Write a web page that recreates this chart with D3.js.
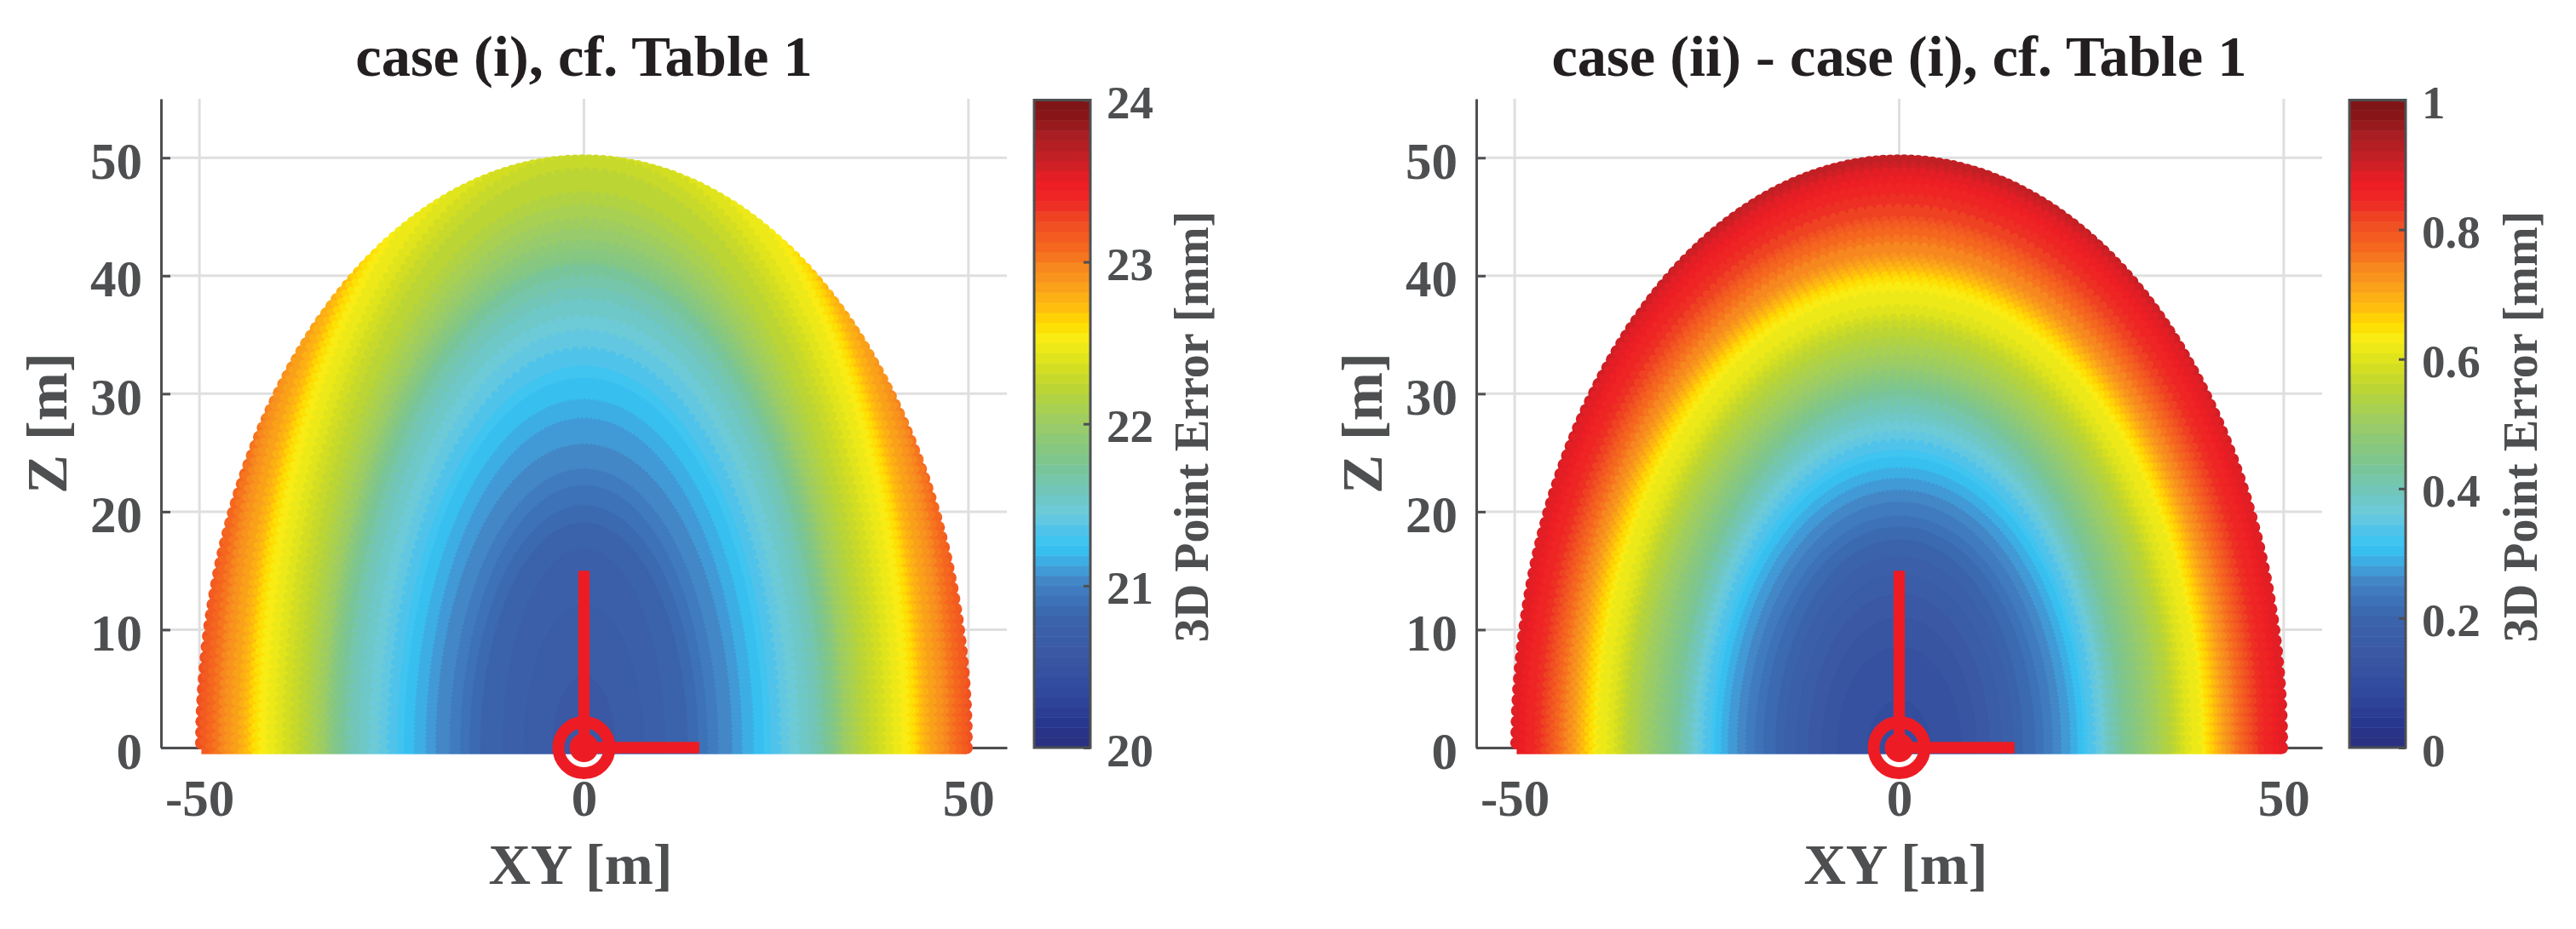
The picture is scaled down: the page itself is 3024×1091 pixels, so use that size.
<!DOCTYPE html>
<html>
<head>
<meta charset="utf-8">
<title>3D Point Error</title>
<script src="https://cdnjs.cloudflare.com/ajax/libs/d3/7.9.0/d3.min.js"></script>
<style>
 body, html { margin: 0; padding: 0; background: white; overflow: hidden; }
 text { font-family: "Liberation Serif", serif; font-weight: bold; fill: #4d4f51; }
 .title { fill: #231f20; }
</style>
</head>
<body>
<svg id="chart" width="3024" height="1091"></svg>
<script>
const xyTicks = [-50, 0, 50];
const zTicks = [0, 10, 20, 30, 40, 50];
const panelTitles = ["case (i), cf. Table 1", "case (ii) - case (i), cf. Table 1"];
const colorTicks = [[20, 21, 22, 23, 24], [0, 0.2, 0.4, 0.6, 0.8, 1]];
const colorDomains = [[20, 24], [0, 1]];

// colormap (fraction of the bar, colour)
const cmapStops = [0, 0.04, 0.08, 0.12, 0.16, 0.2, 0.235, 0.26, 0.285, 0.31, 0.335, 0.36, 0.4, 0.44, 0.48, 0.52, 0.56, 0.6, 0.63, 0.655, 0.68, 0.71, 0.74, 0.77, 0.81, 0.84, 0.875, 0.89, 0.92, 0.95, 0.97, 1];
const cmapColors = ["#2b2e7f", "#27378d", "#2f479d", "#36529f", "#3b5ba5", "#3a64ad", "#3e76bb", "#4489c8", "#3fa9e0", "#35c5f4", "#4fc3ea", "#6ccbde", "#71c6b7", "#7cc591", "#90c975", "#a6cf55", "#bed630", "#dfe31c", "#f7ee16", "#ffdd00", "#ffbe0e", "#faa21a", "#f7891f", "#f5681f", "#f04e23", "#ee2a24", "#ed1c24", "#d91f26", "#bb2025", "#a61e22", "#8c1618", "#7a1416"];

// iso-error curves: error [mm], half width on Z=0 [m], height on XY=0 [m]
const caseOneError = [20.625, 20.6875, 20.75, 20.8125, 20.875, 20.9375, 21, 21.0625, 21.125, 21.1875, 21.25, 21.3125, 21.375, 21.4375, 21.5, 21.5625, 21.625, 21.6875, 21.75, 21.8125, 21.875, 21.9375, 22, 22.0625, 22.125, 22.1875, 22.25, 22.3125, 22.375, 22.4375, 22.5, 22.5625, 22.625, 22.6875, 22.75, 22.8125, 22.875, 22.9375, 23, 23.0625, 23.125, 23.1875, 23.25];
const caseOneWidth = [4, 7.7, 10.5, 13.4, 14.8, 16, 17.4, 19.2, 20.5, 22, 23.3, 24.2, 25.2, 26.3, 27.6, 28.9, 30, 30.7, 31.4, 32.1, 32.6, 33.1, 33.5, 34.3, 35.1, 35.9, 36.8, 37.8, 38.8, 39.8, 40.9, 42, 42.7, 43.2, 43.8, 44.5, 45.5, 46.4, 47.1, 47.9, 48.7, 49.5, 50.3];
const caseOneHeight = [6, 12, 16.8, 19, 20.5, 22.2, 23.6, 25.7, 27.9, 29.5, 31.3, 32.3, 33.7, 35.2, 36.4, 37.8, 38.8, 39.8, 40.7, 41.1, 42, 42.8, 43.8, 44.7, 45.8, 46.9, 48.9, 50.1, 51.1, 52.3, 54, 54.5, 55, 55.5, 56, 57, 58, 58.5, 59, 59.7, 61.5, 64, 67];

const caseTwoError = [0.109, 0.125, 0.141, 0.156, 0.172, 0.188, 0.203, 0.219, 0.234, 0.25, 0.266, 0.281, 0.297, 0.313, 0.328, 0.344, 0.359, 0.375, 0.391, 0.406, 0.422, 0.438, 0.453, 0.469, 0.484, 0.5, 0.516, 0.531, 0.547, 0.563, 0.578, 0.594, 0.609, 0.625, 0.641, 0.656, 0.672, 0.688, 0.703, 0.719, 0.734, 0.75, 0.766, 0.781, 0.797, 0.813, 0.828, 0.844, 0.859, 0.875, 0.891, 0.906, 0.922];
const caseTwoWidth = [4, 8, 10, 11.7, 13.3, 14.8, 16, 17.6, 18.7, 19.9, 21, 22.2, 23.1, 23.9, 24.4, 25.1, 25.8, 26.4, 26.9, 27.6, 28.2, 28.9, 29.8, 30.7, 31.5, 32.4, 33.3, 33.9, 34.9, 35.5, 36.1, 36.7, 37.6, 38.9, 39.4, 39.9, 40.5, 41, 41.5, 42, 42.6, 43.2, 43.8, 44.4, 44.9, 45.5, 46.2, 47, 48.2, 49, 50.2, 51, 52];
const caseTwoHeight = [4, 8.5, 11, 13, 14.6, 16.2, 17.6, 18.7, 19.6, 20.8, 21.8, 22.8, 23.7, 24.6, 25.2, 25.9, 26.6, 27.4, 28.1, 28.8, 29.5, 30.1, 30.7, 31.2, 31.8, 32.4, 33.1, 33.9, 34.6, 35.4, 36, 36.5, 37.3, 38.5, 39.2, 39.7, 40.1, 40.5, 40.9, 41.3, 41.7, 42.6, 43.2, 43.9, 44.4, 44.8, 45.8, 46.7, 47.6, 48.2, 48.9, 49.4, 50.2];

const caseError = [caseOneError, caseTwoError];
const caseWidth = [caseOneWidth, caseTwoWidth];
const caseHeight = [caseOneHeight, caseTwoHeight];

const domeRadius = 49.75;
const rimAngles = d3.range(0, 180.01, 1.05);
const sensorReach = 15;

const svg = d3.select("#chart");
const axisColor = "#4d4f51";
const gridColor = "#dfdfe0";
const markerColor = "#ed1c24";

const cmap = d3.scaleLinear().domain(cmapStops).range(cmapColors);
const bands = d3.range(64).map(i => cmap((i + 0.5) / 64));

function drawPanel(index, left) {
 const g = svg.append("g");
 const x = d3.scaleLinear().domain([-55, 55]).range([left, left + 993]);
 const y = d3.scaleLinear().domain([0, 55]).range([878, 116]);
 const color = d3.scaleQuantize().domain(colorDomains[index]).range(bands);

 // grid
 g.append("g").selectAll("line").data(xyTicks).enter().append("line")
  .attr("x1", d => x(d)).attr("x2", d => x(d))
  .attr("y1", y(55)).attr("y2", y(0))
  .attr("stroke", gridColor).attr("stroke-width", 3);
 g.append("g").selectAll("line").data(zTicks).enter().append("line")
  .attr("x1", x(-55)).attr("x2", x(55))
  .attr("y1", d => y(d)).attr("y2", d => y(d))
  .attr("stroke", gridColor).attr("stroke-width", 3);

 // axes
 const yAxis = g.append("g").attr("transform", `translate(${x(-55)},0)`)
  .call(d3.axisLeft(y).tickValues(zTicks).tickSize(-11).tickSizeOuter(0).tickPadding(22).tickFormat(String));
 const xAxis = g.append("g").attr("transform", `translate(0,${y(0)})`)
  .call(d3.axisBottom(x).tickValues(xyTicks).tickSize(-11).tickSizeOuter(0).tickFormat(String));
 [xAxis, yAxis].forEach(a => {
  a.selectAll("path, line").attr("stroke", axisColor).attr("stroke-width", 3);
  a.selectAll("text").style("font-size", "61px").style("fill", axisColor).attr("font-family", null);
 });
 yAxis.selectAll("text").attr("dy", 24);
 xAxis.selectAll("text").attr("y", 80).attr("dy", 0);

 // dome of points: nested iso-error curves, clipped to the rim of the dots
 const clipId = "dome" + index;
 const clip = g.append("clipPath").attr("id", clipId);
 const rimLine = d3.line().x(d => x(domeRadius * Math.cos(d * Math.PI / 180))).y(d => y(domeRadius * Math.sin(d * Math.PI / 180)));
 clip.append("path").attr("d", rimLine(rimAngles) + "Z");
 clip.append("rect").attr("x", x(-domeRadius)).attr("width", x(domeRadius) - x(-domeRadius)).attr("y", y(2)).attr("height", y(0) - y(2) + 7.7);
 clip.selectAll("circle").data(rimAngles).enter().append("circle")
  .attr("cx", d => x(domeRadius * Math.cos(d * Math.PI / 180)))
  .attr("cy", d => y(domeRadius * Math.sin(d * Math.PI / 180)))
  .attr("r", 7.5);

 const dome = g.append("g").attr("clip-path", `url(#${clipId})`);
 const rows = caseError[index].map((e, i) => ({ e, a: caseWidth[index][i], b: caseHeight[index][i] }));
 const span = colorDomains[index][1] - colorDomains[index][0];
 dome.append("rect").attr("x", x(-55)).attr("width", x(55) - x(-55)).attr("y", y(55)).attr("height", y(0) - y(55) + 10)
  .attr("fill", color(rows[rows.length - 1].e + span / 128));
 const steps = d3.range(0, 360, 2);
 dome.selectAll("path").data(rows.slice().reverse()).enter().append("path")
  .attr("d", r => d3.line()
   .x(d => x(r.a * Math.cos(d * Math.PI / 180)))
   .y(d => y(r.b * Math.sin(d * Math.PI / 180)))(steps) + "Z")
  .attr("fill", r => color(r.e - span / 128))
  // dots along the curve give the scaled edge of the overlapping points
  .attr("stroke", r => color(r.e - span / 128))
  .attr("stroke-width", r => r.a > 25 ? 9 : 3)
  .attr("stroke-linecap", "round")
  .attr("stroke-dasharray", r => r.a > 25 ? "0 11" : "0 5");

 // coordinate frame
 const frame = g.append("g").attr("fill", "none").attr("stroke", markerColor);
 frame.append("line").attr("x1", x(0)).attr("x2", x(0)).attr("y1", y(sensorReach)).attr("y2", y(0)).attr("stroke-width", 13.3);
 frame.append("line").attr("x1", x(0)).attr("x2", x(sensorReach)).attr("y1", y(0)).attr("y2", y(0)).attr("stroke-width", 13.3);
 frame.append("circle").attr("cx", x(0)).attr("cy", y(0)).attr("r", 30).attr("stroke-width", 14);
 frame.append("circle").attr("cx", x(0)).attr("cy", y(0)).attr("r", 17).attr("fill", markerColor).attr("stroke", "none");

 // labels
 g.append("text").attr("class", "title").attr("x", x(0)).attr("y", 89)
  .attr("text-anchor", "middle").style("font-size", "68.5px").text(panelTitles[index]);
 g.append("text").attr("x", x(0) - 4).attr("y", 1038)
  .attr("text-anchor", "middle").style("font-size", "68.5px").text("XY [m]");
 g.append("text").attr("transform", `translate(${left - 111},${y(27.5)}) rotate(-90)`)
  .attr("text-anchor", "middle").style("font-size", "68.5px").text("Z [m]");

 // colorbar
 const barLeft = left + 1025;
 const barY = d3.scaleLinear().domain(colorDomains[index]).range([878, 117.5]);
 const bar = g.append("g");
 bar.selectAll("rect").data(bands).enter().append("rect")
  .attr("x", barLeft).attr("width", 66)
  .attr("y", (d, i) => 878 - (i + 1) * 760.5 / 64).attr("height", 760.5 / 64 + 0.5)
  .attr("fill", d => d);
 bar.append("rect").attr("x", barLeft).attr("y", 117.5).attr("width", 66).attr("height", 760.5)
  .attr("fill", "none").attr("stroke", axisColor).attr("stroke-width", 3);
 const barAxis = bar.append("g").attr("transform", `translate(${barLeft + 66},0)`)
  .call(d3.axisRight(barY).tickValues(colorTicks[index]).tickSize(-8).tickSizeOuter(0).tickPadding(20).tickFormat(String));
 barAxis.select("path").remove();
 barAxis.selectAll("line").attr("stroke", axisColor).attr("stroke-width", 3);
 barAxis.selectAll("text").style("font-size", "55px").style("fill", axisColor).attr("dy", 21).attr("x", 19).attr("font-family", null);
 bar.append("text").attr("transform", `translate(${barLeft + (index ? 220 : 204)},501) rotate(-90)`)
  .attr("text-anchor", "middle").style("font-size", "56px").text("3D Point Error [mm]");
}

drawPanel(0, 189);
drawPanel(1, 1733);
</script>
</body>
</html>
